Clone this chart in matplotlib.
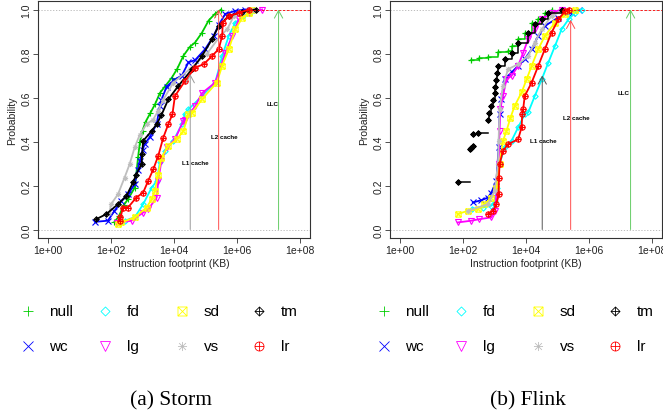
import numpy as np
import matplotlib.pyplot as plt
from matplotlib.path import Path

plt.rcParams['font.family'] = ['Liberation Sans', 'DejaVu Sans']

# series names, legend order (column by column)
names = ['null', 'wc', 'fd', 'lg', 'sd', 'vs', 'tm', 'lr']
colors = ['#00CD00', '#0000FF', '#00FFFF', '#FF00FF',
          '#FFFF00', '#BEBEBE', '#000000', '#FF0000']

# ---- Storm: log10(footprint), probability ----
storm_null_lx = [2.11, 2.25, 2.4, 2.55, 2.75, 2.8, 2.86, 2.92, 3.0, 3.1, 3.25, 3.4,
                 3.55, 3.71, 3.93, 4.1, 4.3, 4.5, 4.67, 4.89, 5.1, 5.3, 5.5]
storm_null_p = [0.035, 0.06, 0.11, 0.14, 0.19, 0.25, 0.33, 0.4, 0.45, 0.49, 0.53, 0.57,
                0.62, 0.65, 0.69, 0.73, 0.79, 0.83, 0.85, 0.895, 0.95, 0.98, 1.0]
storm_wc_lx = [1.5, 1.9, 2.11, 2.33, 2.54, 2.75, 2.85, 2.91, 3.0, 3.07, 3.23, 3.45, 3.55,
               3.6, 3.77, 4.0, 4.25, 4.46, 4.67, 4.99, 5.26, 5.42, 5.63, 5.95, 6.27]
storm_wc_p = [0.035, 0.04, 0.085, 0.13, 0.16, 0.206, 0.27, 0.31, 0.36, 0.39, 0.42, 0.48, 0.56,
              0.59, 0.65, 0.68, 0.70, 0.76, 0.77, 0.82, 0.88, 0.93, 0.98, 0.994, 1.0]
storm_fd_lx = [2.27, 2.43, 2.75, 3.02, 3.29, 3.45, 3.55, 3.71, 3.98, 4.25, 4.35, 4.46,
               4.89, 5.31, 5.53, 5.74, 5.95, 6.2, 6.4, 6.55]
storm_fd_p = [0.03, 0.04, 0.055, 0.115, 0.19, 0.221, 0.305, 0.357, 0.403, 0.479, 0.524, 0.546,
              0.607, 0.668, 0.789, 0.88, 0.94, 0.97, 0.985, 1.0]
storm_lg_lx = [2.2, 2.65, 3.02, 3.18, 3.45, 3.5, 3.6, 3.77, 4.03, 4.3, 4.35, 4.67,
               4.89, 5.31, 5.63, 5.85, 6.06, 6.38, 6.8]
storm_lg_p = [0.03, 0.04, 0.077, 0.092, 0.145, 0.221, 0.312, 0.373, 0.41, 0.494, 0.50, 0.56,
              0.62, 0.668, 0.804, 0.88, 0.955, 0.985, 1.0]
storm_sd_lx = [2.22, 2.33, 2.75, 3.13, 3.29, 3.39, 3.5, 3.6, 3.82, 4.09, 4.3, 4.46, 4.57,
               4.89, 5.36, 5.53, 5.74, 5.95, 6.17, 6.38, 6.49]
storm_sd_p = [0.024, 0.032, 0.055, 0.10, 0.138, 0.175, 0.25, 0.327, 0.38, 0.41, 0.448, 0.524, 0.53,
              0.592, 0.668, 0.744, 0.82, 0.91, 0.963, 0.985, 1.0]
storm_vs_lx = [1.95, 2.0, 2.22, 2.43, 2.59, 2.75, 2.91, 3.13, 3.34, 3.5, 3.66, 3.98,
               4.51, 5.05, 5.47, 5.69, 5.9, 6.11, 6.54]
storm_vs_p = [0.077, 0.115, 0.16, 0.236, 0.297, 0.373, 0.43, 0.479, 0.5, 0.54, 0.59, 0.668,
              0.73, 0.80, 0.88, 0.91, 0.97, 0.99, 1.0]
storm_tm_lx = [1.53, 1.85, 2.22, 2.49, 2.7, 2.8, 2.97, 2.99, 3.02, 3.29, 3.45, 3.6, 3.82,
               4.14, 4.57, 4.89, 5.21, 5.42, 5.74, 6.17, 6.59]
storm_tm_p = [0.047, 0.07, 0.115, 0.153, 0.214, 0.25, 0.297, 0.342, 0.403, 0.448, 0.479, 0.52, 0.592,
              0.653, 0.728, 0.789, 0.865, 0.926, 0.971, 0.989, 1.0]
storm_lr_lx = [2.27, 2.3, 2.38, 2.54, 2.8, 3.02, 3.18, 3.34, 3.5, 3.66, 3.82, 3.95, 4.03,
               4.35, 4.67, 4.94, 5.21, 5.42, 5.53, 5.55, 5.74, 6.06, 6.38]
storm_lr_p = [0.04, 0.055, 0.1, 0.1, 0.145, 0.168, 0.221, 0.273, 0.335, 0.418, 0.479, 0.524, 0.607,
              0.675, 0.736, 0.751, 0.789, 0.82, 0.88, 0.94, 0.97, 0.985, 1.0]

# ---- Flink ----
flink_null_lx = [2.24, 2.5, 2.79, 3.11, 3.43, 3.54, 3.75, 3.96, 4.18, 4.39, 4.6, 4.81]
flink_null_p = [0.77, 0.78, 0.786, 0.805, 0.812, 0.835, 0.865, 0.895, 0.94, 0.955, 0.986, 1.0]
flink_wc_lx = [2.31, 2.58, 2.79, 2.9, 3.06, 3.13, 3.16, 3.22, 3.32, 3.54, 3.75, 3.96,
               4.18, 4.39, 4.6, 5.03, 5.45, 5.67]
flink_wc_p = [0.123, 0.133, 0.145, 0.168, 0.221, 0.373, 0.524, 0.592, 0.683, 0.714, 0.744, 0.774,
              0.82, 0.88, 0.926, 0.963, 0.985, 1.0]
flink_fd_lx = [2.3, 2.63, 2.9, 3.0, 3.09, 3.16, 3.32, 3.54, 3.75, 3.96, 4.07, 4.28, 4.5,
               4.71, 4.92, 5.13, 5.35, 5.56, 5.77]
flink_fd_p = [0.095, 0.1, 0.108, 0.13, 0.19, 0.297, 0.373, 0.403, 0.464, 0.524, 0.532, 0.607, 0.683,
              0.759, 0.834, 0.91, 0.955, 0.986, 1.0]
flink_lg_lx = [1.83, 2.26, 2.52, 2.9, 3.0, 3.06, 3.13, 3.16, 3.18, 3.27, 3.38, 3.54, 3.75,
               3.91, 4.07, 4.28, 4.5, 4.81, 5.13]
flink_lg_p = [0.032, 0.04, 0.047, 0.055, 0.085, 0.145, 0.297, 0.448, 0.547, 0.607, 0.683, 0.698, 0.744,
              0.804, 0.865, 0.91, 0.955, 0.985, 1.0]
flink_sd_lx = [1.83, 2.15, 2.47, 2.68, 2.9, 3.06, 3.16, 3.27, 3.38, 3.5, 3.64, 3.86, 4.02,
               4.18, 4.39, 4.6, 4.92, 5.24, 5.56]
flink_sd_p = [0.07, 0.085, 0.092, 0.115, 0.145, 0.19, 0.297, 0.403, 0.448, 0.505, 0.562, 0.623, 0.683,
              0.744, 0.82, 0.88, 0.94, 0.978, 1.0]
flink_vs_lx = [2.15, 2.79, 3.0, 3.11, 3.13, 3.16, 3.27, 3.43, 3.75, 4.07, 4.28, 4.5, 4.81, 5.24]
flink_vs_p = [0.085, 0.115, 0.175, 0.297, 0.403, 0.547, 0.653, 0.729, 0.751, 0.789, 0.85, 0.91,
              0.971, 1.0]
flink_tm_lx = [1.83, 2.21, 2.26, 2.31, 2.33, 2.47, 2.79, 2.84, 2.9, 2.95, 3.0, 3.03, 3.06, 3.09,
               3.11, 3.32, 3.54, 3.75, 4.07, 4.28, 4.5, 4.71, 5.13]
flink_tm_p = [0.215, 0.365, 0.372, 0.38, 0.433, 0.44, 0.5, 0.53, 0.56, 0.59, 0.62, 0.65, 0.68, 0.71,
              0.743, 0.774, 0.804, 0.85, 0.895, 0.933, 0.955, 0.986, 1.0]
flink_lr_lx = [2.79, 2.95, 3.06, 3.13, 3.14, 3.16, 3.27, 3.43, 3.75, 3.86, 3.88, 3.91, 3.96,
               4.18, 4.39, 4.6, 4.81, 5.03, 5.24, 5.35]
flink_lr_p = [0.07, 0.085, 0.115, 0.16, 0.236, 0.297, 0.357, 0.388, 0.41, 0.464, 0.524, 0.547, 0.607,
              0.668, 0.744, 0.82, 0.895, 0.955, 0.992, 1.0]

storm = {'null': (storm_null_lx, storm_null_p), 'wc': (storm_wc_lx, storm_wc_p),
         'fd': (storm_fd_lx, storm_fd_p), 'lg': (storm_lg_lx, storm_lg_p),
         'sd': (storm_sd_lx, storm_sd_p), 'vs': (storm_vs_lx, storm_vs_p),
         'tm': (storm_tm_lx, storm_tm_p), 'lr': (storm_lr_lx, storm_lr_p)}
flink = {'null': (flink_null_lx, flink_null_p), 'wc': (flink_wc_lx, flink_wc_p),
         'fd': (flink_fd_lx, flink_fd_p), 'lg': (flink_lg_lx, flink_lg_p),
         'sd': (flink_sd_lx, flink_sd_p), 'vs': (flink_vs_lx, flink_vs_p),
         'tm': (flink_tm_lx, flink_tm_p), 'lr': (flink_lr_lx, flink_lr_p)}

# sparse series are drawn as ECDF steps, with no riser across big jumps
stepped = {'flink': ['null', 'tm']}

# cache sizes (bytes) and where the arrows stop
cache_x = [32768, 262144, 20971520]
storm_tops = [0.706, 1.0, 1.0]
flink_tops = [0.70, 0.953, 1.0]
storm_lbl = [(10**4.67, 0.305), (10**5.6, 0.424), (10**7.12, 0.574)]
flink_lbl = [(10**4.55, 0.403), (10**5.61, 0.509), (10**7.1, 0.623)]
cache_names = ['L1 cache', 'L2 cache', 'LLC']

# R style point symbols
M, L, C = Path.MOVETO, Path.LINETO, Path.CLOSEPOLY
plus = Path([(-1, 0), (1, 0), (0, -1), (0, 1)], [M, L, M, L])
cross = Path([(-1, -1), (1, 1), (-1, 1), (1, -1)], [M, L, M, L])
cross_s = Path([(-.75, -.75), (.75, .75), (-.75, .75), (.75, -.75)], [M, L, M, L])
square = Path([(-1, -1), (1, -1), (1, 1), (-1, 1), (-1, -1)], [M, L, L, L, C])
diamond = Path([(0, -1), (1, 0), (0, 1), (-1, 0), (0, -1)], [M, L, L, L, C])
markers = ['+', 'x', diamond, 'v',
           Path.make_compound_path(square, cross),
           Path.make_compound_path(plus, cross_s),
           Path.make_compound_path(diamond, plus),
           Path.make_compound_path(Path.unit_circle(), plus)]

fig = plt.figure(figsize=(6.63, 4.14), dpi=100)
W, H = 663, 414


def step_path(x, p):
    xs, ps = [], []
    for i in range(len(x)):
        xs.append(x[i])
        ps.append(p[i])
        if i < len(x) - 1:
            xs.append(x[i + 1])
            ps.append(p[i])
            if p[i + 1] - p[i] > 0.05:
                xs.append(np.nan)
                ps.append(np.nan)
    return xs, ps


def panel(left, key, data, tops, lbls, l1col):
    ax = fig.add_axes([left / W, (H - 239.3) / H, 272 / W, 237.6 / H])
    xlo, xhi = 10**-0.32, 10**8.32
    ax.axhline(0, color='#b3b3b3', ls=(0, (1.5, 2)), lw=0.6, zorder=1)
    ax.axhline(1, color='#b3b3b3', ls=(0, (1.5, 2)), lw=0.6, zorder=1)
    for name, col, mk in zip(names, colors, markers):
        lx, p = data[name]
        x = 10 ** np.array(lx)
        if name in stepped.get(key, []):
            sx, sp = step_path(x, p)
            ax.plot(sx, sp, color=col, lw=1.1, zorder=3)
            ax.plot(x, p, ls='none', color=col, marker=mk, ms=3.8,
                    mfc='none', mew=0.9, zorder=3)
        else:
            ax.plot(x, p, color=col, lw=1.3, marker=mk, ms=3.8,
                    mfc='none', mew=0.8, zorder=3)
    lx, p = data['lr']
    ax.plot([10 ** lx[-1], xhi], [1, 1], color='#FF0000', lw=0.6,
            ls=(0, (3, 2)), zorder=3)
    for cx, top, col in zip(cache_x, tops, [l1col, '#ff4d4d', '#66cc66']):
        ax.annotate('', xy=(cx, top), xytext=(cx, 0),
                    arrowprops=dict(arrowstyle='->,head_length=0.55,head_width=0.3',
                                    color=col, lw=0.7, shrinkA=0, shrinkB=0,
                                    mutation_scale=10), zorder=4)
    for (tx, ty), t in zip(lbls, cache_names):
        ax.text(tx, ty, t, fontsize=4.5, fontweight='bold', ha='center',
                va='center', zorder=5)
    ax.set_xscale('log')
    ax.set_xlim(xlo, xhi)
    ax.set_ylim(-0.04, 1.04)
    ax.set_xticks([1, 1e2, 1e4, 1e6, 1e8])
    ax.set_xticklabels(['1e+00', '1e+02', '1e+04', '1e+06', '1e+08'])
    ax.xaxis.set_minor_locator(plt.NullLocator())
    ax.set_yticks([0, 0.2, 0.4, 0.6, 0.8, 1.0])
    ax.set_yticklabels(['0.0', '0.2', '0.4', '0.6', '0.8', '1.0'],
                       rotation=90, va='center')
    ax.tick_params(direction='out', length=3.3, width=0.6, color='#333333',
                   labelsize=7.5, pad=1.5, labelcolor='#222222')
    for s in ax.spines.values():
        s.set_color('#333333')
        s.set_linewidth(0.8)
    ax.set_xlabel('Instruction footprint (KB)', fontsize=7.5, color='#222222')
    ax.set_ylabel('Probability', fontsize=7.5, color='#222222')
    ax.xaxis.set_label_coords(0.5, -25 / 237.6)
    ax.xaxis.label.set_va('center')
    ax.yaxis.set_label_coords(-26.3 / 272, 0.5)
    ax.yaxis.label.set_va('center')
    return ax


panel(38, 'storm', storm, storm_tops, storm_lbl, '#999999')
panel(390, 'flink', flink, flink_tops, flink_lbl, '#555555')

# legends and captions, laid out in pixel coordinates
lg = fig.add_axes([0, 0, 1, 1])
lg.set_xlim(0, W)
lg.set_ylim(H, 0)
lg.axis('off')
mk_x = [27.7, 105.3, 182.3, 259.3]
tx_x = [49.3, 126.7, 204, 281]
row_y = [312.3, 347.3]
for off in [0, 356]:
    for i, (name, col, mk) in enumerate(zip(names, colors, markers)):
        c, r = i // 2, i % 2
        lg.plot(mk_x[c] + off, row_y[r], marker=mk, ms=6.5, mfc='none',
                mec=col, mew=0.6, ls='none')
        lg.text(tx_x[c] + off, row_y[r], name, fontsize=11, va='center', ha='left')

lg.text(170.5, 401, '(a) Storm', fontsize=15.5, family='Liberation Serif',
        ha='center', va='center')
lg.text(528, 401, '(b) Flink', fontsize=15.5, family='Liberation Serif',
        ha='center', va='center')

fig.savefig('out.png', dpi=100)
